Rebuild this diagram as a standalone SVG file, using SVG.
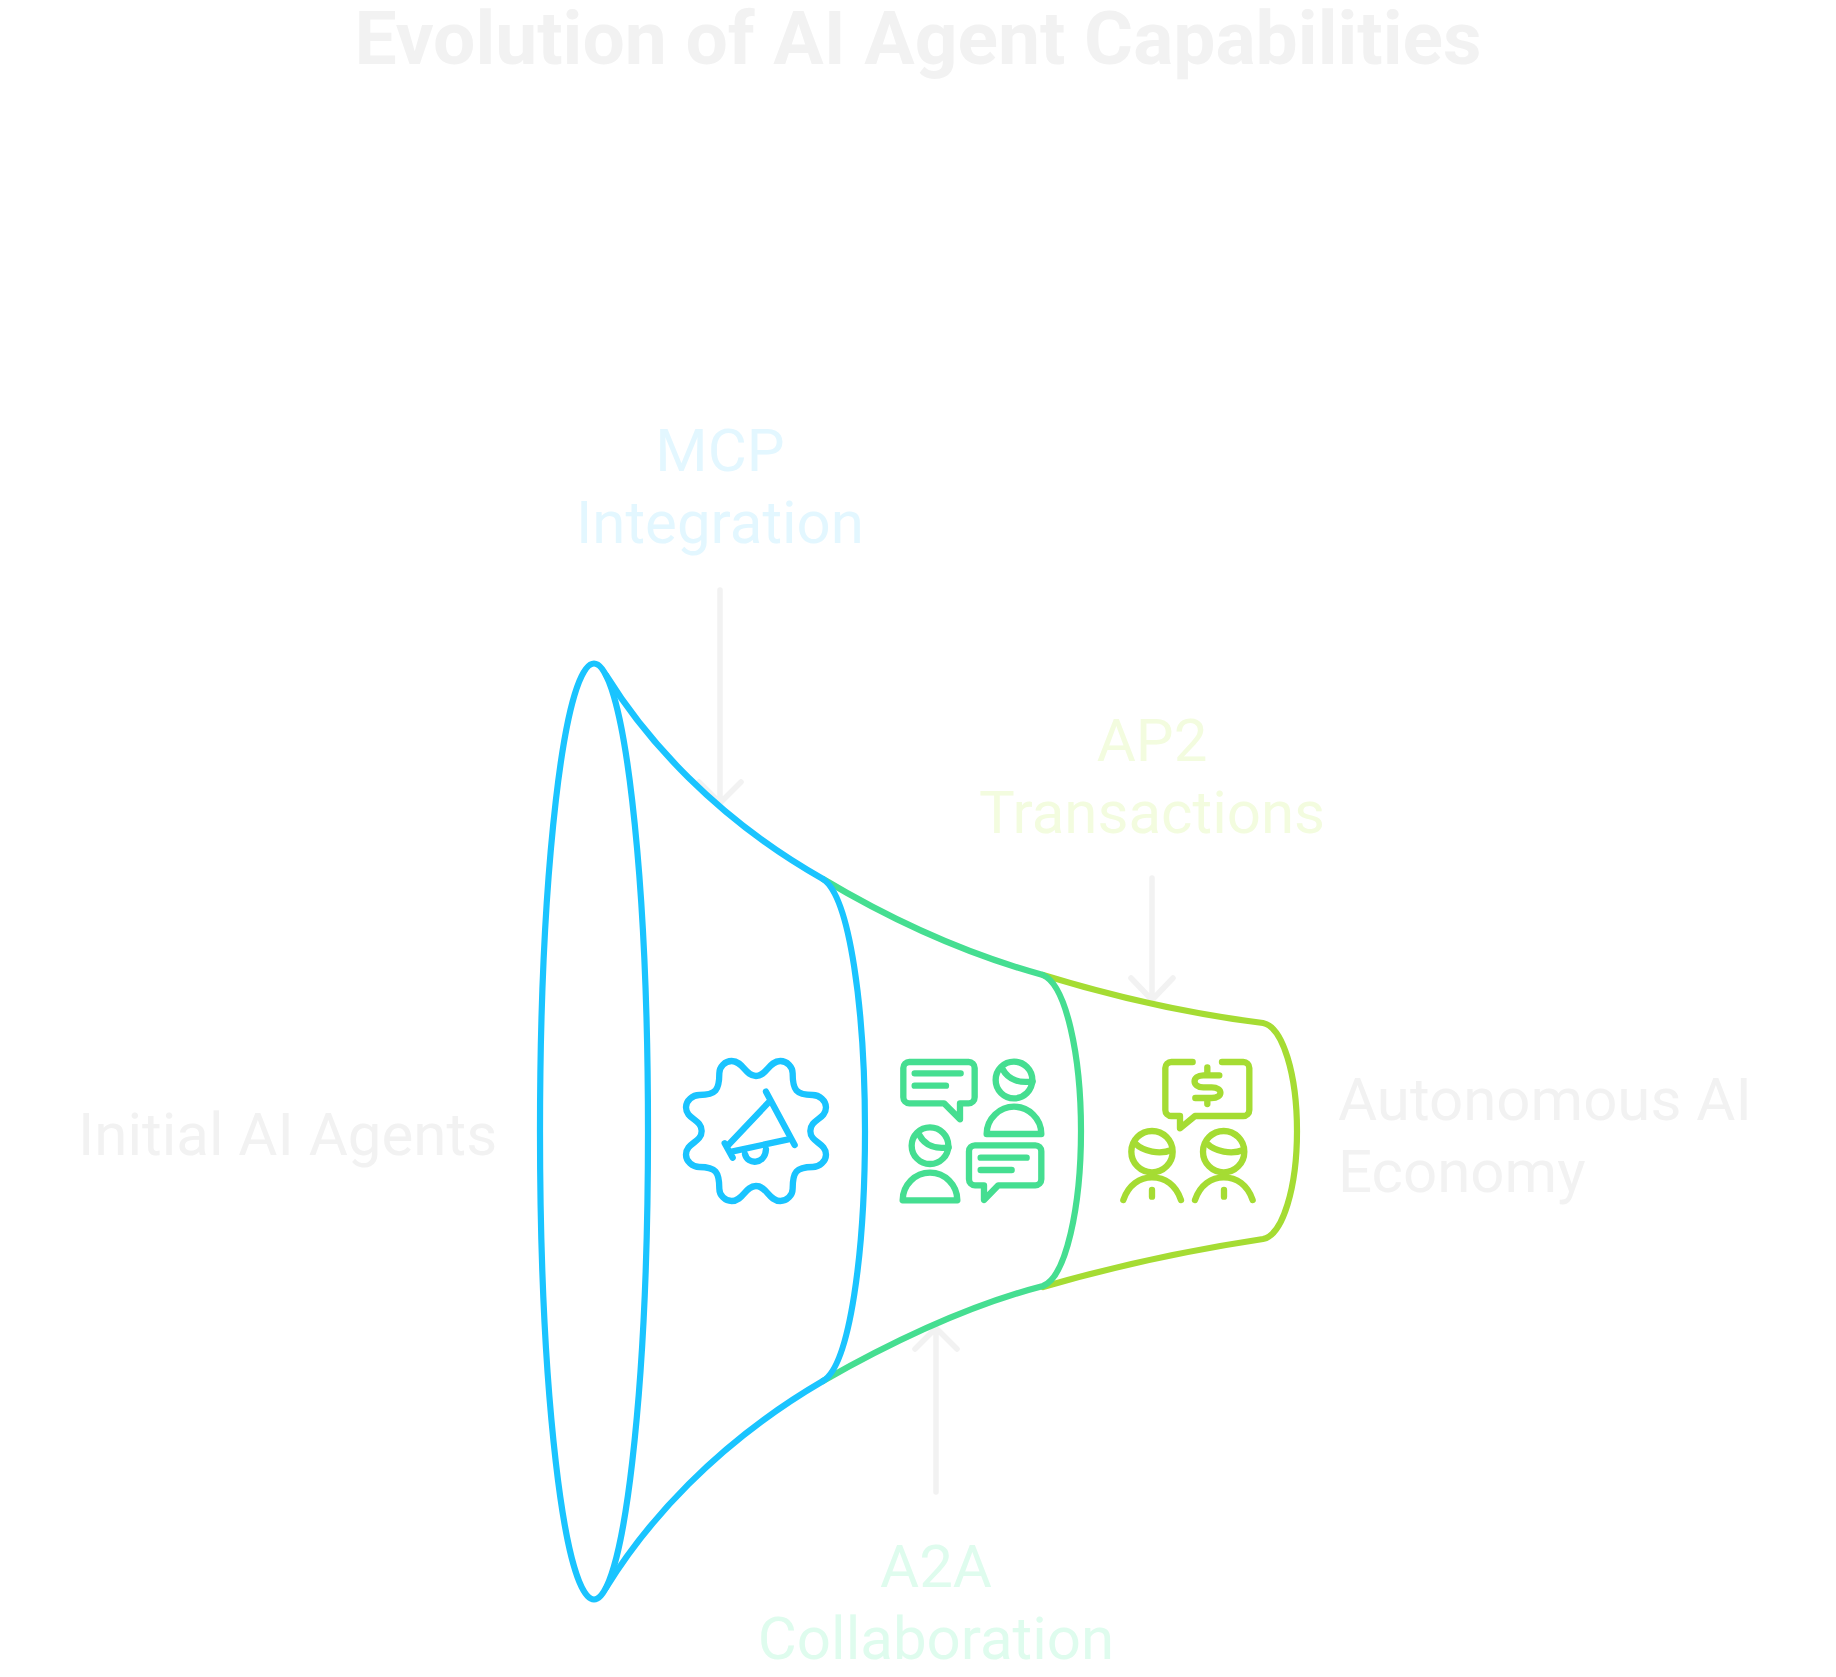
<svg xmlns="http://www.w3.org/2000/svg" width="1836" height="1677" viewBox="0 0 1836 1677">
<style>
text{font-family:Roboto,"Liberation Sans",sans-serif;font-size:60px;fill:#f2f2f2}
.title{font-size:75px;font-weight:700;text-anchor:middle}
.mid{text-anchor:middle}
.arrow{fill:none;stroke:#f2f2f2;stroke-width:5.5;stroke-linecap:round;stroke-linejoin:round}
.seg{fill:none;stroke-width:6.2;stroke-linecap:round;stroke-linejoin:round}
.ico{fill:none;stroke-width:19;stroke-linecap:round;stroke-linejoin:round}
.blue{stroke:#1ac4ff}.green{stroke:#45de91}.lime{stroke:#a5dc33}
.c1{fill:#e3f7ff}.c2{fill:#f3fcdf}.c3{fill:#dffcee}
</style>
<rect width="1836" height="1677" fill="#fff"/>
<text class="title" x="918" y="64">Evolution of AI Agent Capabilities</text>
<g id="connectors">
<path class="arrow" d="M720,590V803M699,782L720,803L741,782"/>
<path class="arrow" d="M1152,878V1000M1131,978L1152,1000L1173,978"/>
<path class="arrow" d="M936,1492V1328M915,1349L936,1328L957,1349"/>
</g>
<g id="node-autonomous">
<path class="seg lime" d="M1043,975C1115,997 1190,1014 1263,1023C1283,1027 1297,1075 1297,1131C1297,1187 1283,1235 1263,1239C1190,1250 1115,1266 1043,1287"/>
<g class="ico lime" transform="translate(1100,1040) scale(.3333)">
<path d="M278,66H214a18,18 0 0 0 -18,18V210a18,18 0 0 0 18,18H240V265L285,228H430a18,18 0 0 0 18,-18V84a18,18 0 0 0 -18,-18H366"/>
<path d="M358,106H310C275,106 275,142 310,142H335C370,142 370,174 335,174H286M322,82V104M322,176V192"/>
<circle cx="156" cy="335" r="62"/><path d="M105,310C130,335 180,345 215,330"/>
<circle cx="371" cy="335" r="62"/><path d="M320,310C345,335 395,345 430,330"/>
<path d="M70,480C85,435 120,412 156,412C195,412 228,435 243,480M156,450V470"/>
<path d="M285,480C300,435 335,412 371,412C410,412 443,435 458,480M372,450V470"/>
</g>
<text><tspan x="1338" y="1120">Autonomous AI</tspan><tspan x="1338" y="1192">Economy</tspan></text>
</g>
<g id="node-a2a">
<path class="seg green" d="M823,879C895,922 970,955 1043,975C1066,985 1081,1055 1081,1131C1081,1207 1066,1277 1043,1286C970,1305 895,1340 823,1381"/>
<g class="ico green" transform="translate(880,1040) scale(.3333)">
<path d="M90,66H266a18,18 0 0 1 18,18V172a18,18 0 0 1 -18,18H240V238L192,190H88a18,18 0 0 1 -18,-18V84a18,18 0 0 1 18,-18Z"/>
<path d="M104,100H242M104,137H198"/>
<circle cx="402" cy="120" r="55"/><path d="M368,88C385,120 420,130 458,124"/>
<path d="M320,282H484C484,235 445,200 402,200C360,200 320,235 320,282Z"/>
<circle cx="150" cy="317" r="55"/><path d="M118,285C135,318 170,328 206,322"/>
<path d="M68,481H232C232,435 195,398 150,398C105,398 68,435 68,481Z"/>
<path d="M285,316H466a18,18 0 0 1 18,18V418a18,18 0 0 1 -18,18H355L312,480V436H285a18,18 0 0 1 -18,-18V334a18,18 0 0 1 18,-18Z"/>
<path d="M302,353H440M302,390H395"/>
</g>
<text class="mid c3"><tspan x="936" y="1587">A2A</tspan><tspan x="936" y="1659">Collaboration</tspan></text>
</g>
<g id="node-initial">
<ellipse class="seg blue" cx="594" cy="1131.5" rx="54" ry="468"/>
<path class="seg blue" d="M606,675C645,738 715,818 823,879C850,897 865,1010 865,1131C865,1252 850,1365 823,1381C715,1444 645,1524 606,1588"/>
<g class="ico blue" transform="translate(660,1030) scale(.3333)">
<path d="M288,138C255,138 250,93 215,93C195,93 178,110 178,130C178,180 168,195 118,195C98,195 78,212 78,232C78,268 125,268 125,303C125,338 78,338 78,374C78,394 98,411 118,411C168,411 178,426 178,476C178,496 195,513 215,513C250,513 255,468 288,468C321,468 326,513 361,513C381,513 398,496 398,476C398,426 408,411 458,411C478,411 498,394 498,374C498,338 451,338 451,303C451,268 498,268 498,232C498,212 478,195 458,195C408,195 398,180 398,130C398,110 381,93 361,93C326,93 321,138 288,138Z"/>
<path d="M318,185L404,345M194,340L218,383M328,215L205,345M215,365L385,328M255,372C262,405 315,405 318,358"/>
</g>
<text x="78" y="1155">Initial AI Agents</text>
</g>
<g id="node-mcp"><text class="mid c1"><tspan x="720" y="471">MCP</tspan><tspan x="720" y="543">Integration</tspan></text></g>
<g id="node-ap2"><text class="mid c2"><tspan x="1152" y="761">AP2</tspan><tspan x="1152" y="833">Transactions</tspan></text></g>
</svg>
